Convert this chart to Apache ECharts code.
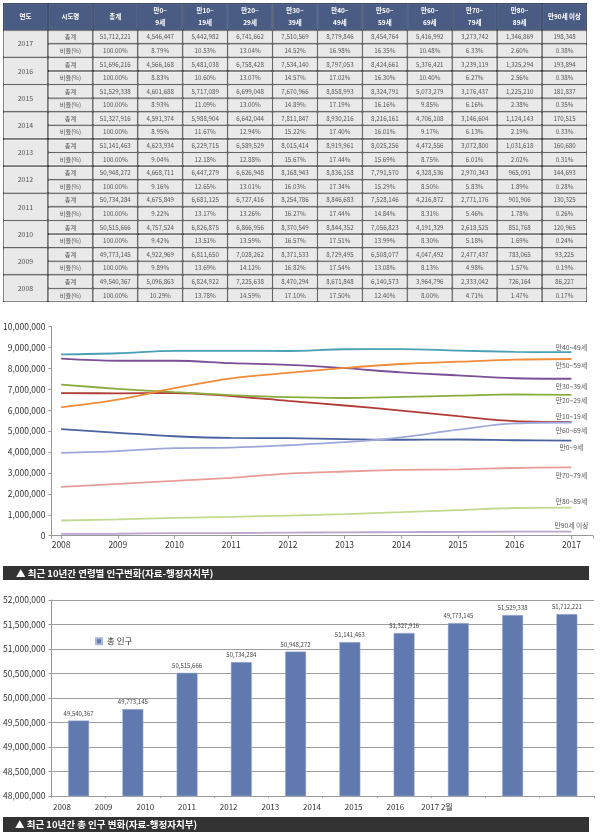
<!DOCTYPE html>
<html><head><meta charset="utf-8">
<script src="https://cdn.jsdelivr.net/npm/echarts@6/dist/echarts.min.js"></script>
<style>html,body{margin:0;padding:0;background:#fff}#c{width:600px;height:837px}</style>
</head><body><div id="c"></div>
<script>
// ---------- data ----------
const years = [2008, 2009, 2010, 2011, 2012, 2013, 2014, 2015, 2016, 2017];
const ageGroups = ['만0~9세','만10~19세','만20~29세','만30~39세','만40~49세','만50~59세','만60~69세','만70~79세','만80~89세','만90세 이상'];
const totals   = [49540367, 49773145, 50515666, 50734284, 50948272, 51141463, 51327916, 51529338, 51696216, 51712221];
const pop0_9   = [5096863, 4922969, 4757524, 4675849, 4668711, 4623934, 4591374, 4601688, 4566168, 4546447];
const pop10_19 = [6824922, 6811650, 6826875, 6681125, 6447279, 6229715, 5988904, 5717089, 5481038, 5442982];
const pop20_29 = [7225638, 7028262, 6866956, 6727416, 6626948, 6589529, 6642044, 6699048, 6758428, 6741662];
const pop30_39 = [8470294, 8371533, 8370549, 8254786, 8168943, 8015414, 7811847, 7670966, 7534140, 7510569];
const pop40_49 = [8671848, 8729495, 8844352, 8846683, 8836158, 8919961, 8930216, 8858993, 8797053, 8779846];
const pop50_59 = [6140573, 6508077, 7056823, 7528146, 7791570, 8025256, 8216161, 8324791, 8424661, 8454764];
const pop60_69 = [3964796, 4047492, 4191329, 4216872, 4328536, 4472556, 4706108, 5073279, 5376421, 5416992];
const pop70_79 = [2333042, 2477437, 2618525, 2771176, 2970343, 3072800, 3146604, 3176437, 3239119, 3273742];
const pop80_89 = [726164, 783065, 851768, 901906, 965091, 1031618, 1124143, 1225210, 1325294, 1346869];
const pop90up  = [86227, 93225, 120965, 130325, 144693, 160680, 170515, 181837, 193894, 198348];
// ratio rows (%), chronological 2008..2017: total, then each age group
const ratio2008 = ['100.00%','10.29%','13.78%','14.59%','17.10%','17.50%','12.40%','8.00%','4.71%','1.47%','0.17%'];
const ratio2009 = ['100.00%','9.89%','13.69%','14.12%','16.82%','17.54%','13.08%','8.13%','4.98%','1.57%','0.19%'];
const ratio2010 = ['100.00%','9.42%','13.51%','13.59%','16.57%','17.51%','13.99%','8.30%','5.18%','1.69%','0.24%'];
const ratio2011 = ['100.00%','9.22%','13.17%','13.26%','16.27%','17.44%','14.84%','8.31%','5.46%','1.78%','0.26%'];
const ratio2012 = ['100.00%','9.16%','12.65%','13.01%','16.03%','17.34%','15.29%','8.50%','5.83%','1.89%','0.28%'];
const ratio2013 = ['100.00%','9.04%','12.18%','12.88%','15.67%','17.44%','15.69%','8.75%','6.01%','2.02%','0.31%'];
const ratio2014 = ['100.00%','8.95%','11.67%','12.94%','15.22%','17.40%','16.01%','9.17%','6.13%','2.19%','0.33%'];
const ratio2015 = ['100.00%','8.93%','11.09%','13.00%','14.89%','17.19%','16.16%','9.85%','6.16%','2.38%','0.35%'];
const ratio2016 = ['100.00%','8.83%','10.60%','13.07%','14.57%','17.02%','16.30%','10.40%','6.27%','2.56%','0.38%'];
const ratio2017 = ['100.00%','8.79%','10.53%','13.04%','14.52%','16.98%','16.35%','10.48%','6.33%','2.60%','0.38%'];
const headerLabels = ['연도','시도명','총계','만0~\n9세','만10~\n19세','만20~\n29세','만30~\n39세','만40~\n49세','만50~\n59세','만60~\n69세','만70~\n79세','만80~\n89세','만90세 이상'];
const rowLabels = ['총계','비율(%)'];
const barLabels = ['49,540,367','49,773,145','50,515,666','50,734,284','50,948,272','51,141,463','51,327,916','49,773,145','51,529,338','51,712,221'];
const barAxisLabels = ['2008','2009','2010','2011','2012','2013','2014','2015','2016','2017 2월'];
const lineTitle = '▲ 최근 10년간 연령별 인구변화(자료-행정자치부)';
const barTitle = '▲ 최근 10년간 총 인구 변화(자료-행정자치부)';
const barSeriesName = '총 인구';

// ---------- build ----------
const FF = '"Noto Sans CJK KR","Noto Sans",sans-serif';
const popSeries = [pop0_9,pop10_19,pop20_29,pop30_39,pop40_49,pop50_59,pop60_69,pop70_79,pop80_89,pop90up];
const ratioRows = [ratio2008,ratio2009,ratio2010,ratio2011,ratio2012,ratio2013,ratio2014,ratio2015,ratio2016,ratio2017];
const fmt = v => v.toLocaleString('en-US');

const cells = [];
headerLabels.forEach((h, c) => cells.push({value: [c, 0, 2], text: h, kind: 'h'}));
for (let k = 0; k < years.length; k++) {
  const i = years.length - 1 - k; // 2017 first
  const r = 2 + 2 * k;
  cells.push({value: [0, r, 2], text: String(years[i]), kind: 'y'});
  cells.push({value: [1, r, 1], text: rowLabels[0], kind: 'd'});
  cells.push({value: [1, r + 1, 1], text: rowLabels[1], kind: 'd'});
  cells.push({value: [2, r, 1], text: fmt(totals[i]), kind: 'd'});
  cells.push({value: [2, r + 1, 1], text: ratioRows[i][0], kind: 'd'});
  for (let a = 0; a < popSeries.length; a++) {
    cells.push({value: [3 + a, r, 1], text: fmt(popSeries[a][i]), kind: 'd'});
    cells.push({value: [3 + a, r + 1, 1], text: ratioRows[i][a + 1], kind: 'd'});
  }
}

function renderCell(params, api) {
  const cell = cells[params.dataIndex];
  const p = api.coord([api.value(0), api.value(1)]);
  const s = api.size([1, 1]);
  const w = s[0], h = s[1] * api.value(2);
  const x = p[0] - w / 2, y = p[1] - s[1] / 2;
  const isH = cell.kind === 'h';
  return {
    type: 'group',
    children: [
      {type: 'rect', shape: {x: x, y: y, width: w, height: h}, style: {fill: isH ? '#2f3a52' : '#333'}},
      {type: 'rect', shape: {x: x + 1, y: y + 1, width: w - 2, height: h - 2},
        style: {fill: isH ? '#4a5c83' : '#e9e9e9', stroke: isH ? '#5d6f95' : '#fbfbfb', lineWidth: 0.8}},
      {type: 'text', style: {text: cell.text, x: x + w / 2, y: y + h / 2, align: 'center', verticalAlign: 'middle',
        fontFamily: FF, fontSize: isH ? 6.5 : (cell.kind === 'y' ? 7 : 6.2), fontWeight: isH ? 'bold' : 'normal',
        lineHeight: 12, fill: isH ? '#fff' : '#555'}}
    ]
  };
}

const lineColors = ['#4b62a0','#b13b36','#8bab3f','#7b4f97','#4aa0b4','#f08c3b','#9da8d8','#e89c97','#c3d98f','#bba5cf'];
const labelDy = [6.5, -5.5, 6, 8, -5, 6, 7.5, 8.5, -6.5, -5.7];

const lineSeries = popSeries.map((arr, s) => ({
  type: 'line', name: ageGroups[s], xAxisIndex: 1, yAxisIndex: 1,
  data: years.map((y, i) => [y, arr[i]]),
  smooth: 0.35, symbol: 'none',
  lineStyle: {width: 1.8, color: lineColors[s]}, itemStyle: {color: lineColors[s]},
  endLabel: {show: true, formatter: ageGroups[s], distance: 0, align: 'center', verticalAlign: 'middle',
    offset: [0, labelDy[s]], fontSize: 6.8, fontFamily: FF, color: '#555'},
  silent: true
}));

const axisLbl = {fontFamily: FF, fontSize: 8.5, color: '#333'};

const option = {
  backgroundColor: '#fff',
  animation: false,
  textStyle: {fontFamily: FF},
  grid: [
    {left: 3, right: 13, top: 3, height: 299},
    {left: 43, right: 7, top: 326.7, height: 209},
    {left: 45, right: 6, top: 600, height: 196},
    {left: 62, width: 375, top: 600, height: 196}
  ],
  xAxis: [
    {gridIndex: 0, type: 'category', data: headerLabels.map((_, i) => String(i)), show: false},
    {gridIndex: 1, type: 'value', min: 2007.83, max: 2017.38, minInterval: 1, maxInterval: 1, splitLine: {show: false},
      axisLine: {show: true, lineStyle: {color: '#999'}}, axisTick: {show: true, length: 3, lineStyle: {color: '#999'}},
      axisLabel: Object.assign({margin: 5, formatter: v => Number.isInteger(v) ? String(v) : ''}, axisLbl)},
    {gridIndex: 2, type: 'category', data: years.map(String), axisLabel: {show: false},
      axisLine: {lineStyle: {color: '#999'}}, axisTick: {show: true, length: 2, lineStyle: {color: '#999'}}},
    {gridIndex: 3, type: 'category', data: barAxisLabels, boundaryGap: false, axisLine: {show: false}, axisTick: {show: false},
      axisLabel: Object.assign({margin: 7, interval: 0}, axisLbl, {fontSize: 8})}
  ],
  yAxis: [
    {gridIndex: 0, type: 'category', data: Array.from({length: 22}, (_, i) => String(i)), inverse: true, show: false},
    {gridIndex: 1, type: 'value', min: 0, max: 10000000, interval: 1000000, splitLine: {show: false},
      axisLine: {show: true, lineStyle: {color: '#999'}}, axisTick: {show: true, length: 3, lineStyle: {color: '#999'}},
      axisLabel: Object.assign({margin: 6, formatter: v => fmt(v)}, axisLbl)},
    {gridIndex: 2, type: 'value', min: 48000000, max: 52000000, interval: 500000,
      splitLine: {show: true, lineStyle: {color: '#9c9c9c', width: 1}},
      axisLine: {show: true, lineStyle: {color: '#999'}}, axisTick: {show: true, length: 3, lineStyle: {color: '#999'}},
      axisLabel: Object.assign({margin: 6, formatter: v => fmt(v)}, axisLbl)},
    {gridIndex: 3, type: 'value', show: false}
  ],
  legend: {
    data: [barSeriesName], left: 90, top: 632, icon: 'rect', itemWidth: 6, itemHeight: 6, itemGap: 4,
    textStyle: {fontFamily: FF, fontSize: 8.5, color: '#333'}
  },
  graphic: [
    {type: 'group', children: [
      {type: 'rect', shape: {x: 3, y: 566, width: 586, height: 14}, style: {fill: '#333'}},
      {type: 'text', style: {text: lineTitle, x: 16, y: 573.5, verticalAlign: 'middle', fill: '#fff',
        fontFamily: FF, fontSize: 9.5, fontWeight: 'bold'}}
    ]},
    {type: 'group', children: [
      {type: 'rect', shape: {x: 3, y: 817, width: 586, height: 15}, style: {fill: '#333'}},
      {type: 'text', style: {text: barTitle, x: 15, y: 824.5, verticalAlign: 'middle', fill: '#fff',
        fontFamily: FF, fontSize: 9.5, fontWeight: 'bold'}}
    ]}
  ],
  series: [
    {type: 'custom', xAxisIndex: 0, yAxisIndex: 0, renderItem: renderCell, data: cells.map(c => c.value),
      encode: {x: 0, y: 1}, silent: true},
    ...lineSeries,
    {type: 'bar', name: barSeriesName, xAxisIndex: 2, yAxisIndex: 2, data: totals, barWidth: 21,
      itemStyle: {color: '#6079af', borderColor: '#aab8d6', borderWidth: 0.5},
      label: {show: true, position: 'top', distance: 4, fontSize: 6, fontFamily: FF, color: '#444',
        formatter: p => barLabels[p.dataIndex]}}
  ]
};

const chart = echarts.init(document.getElementById('c'));
chart.setOption(option);
</script></body></html>
